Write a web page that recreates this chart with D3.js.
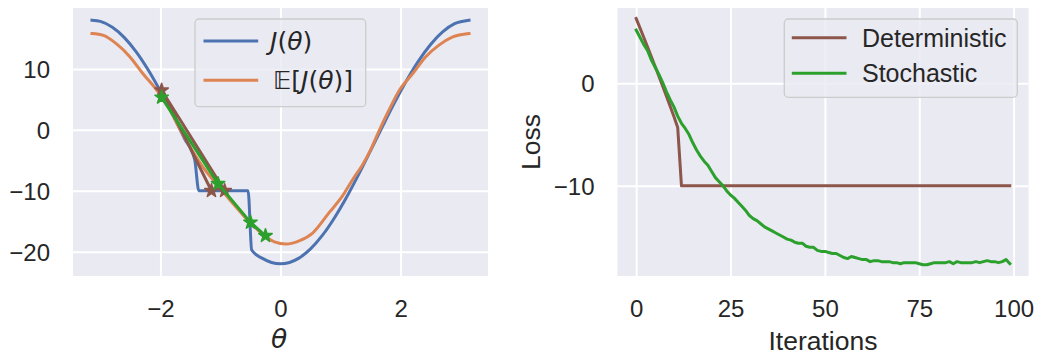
<!DOCTYPE html>
<html><head><meta charset="utf-8">
<script src="https://cdn.jsdelivr.net/npm/d3@7"></script>
<style>html,body{margin:0;padding:0;background:#fff;} svg{display:block;}</style>
</head><body><svg id="c" width="1048" height="358"></svg>
<script>
// ---------- LEFT PANEL DATA ----------
const thetaJ = [-3.14, -3.0, -2.8, -2.6, -2.4, -2.2, -2.0, -1.8, -1.6, -1.43, -1.36, -0.54, -0.48, -0.3, -0.15, 0.0,
                0.15, 0.3, 0.5, 0.7, 0.9, 1.1, 1.3, 1.5, 1.7, 1.9, 2.1, 2.3, 2.5, 2.7, 2.9, 3.14];
const valJ   = [18.0, 17.8, 16.84, 15.14, 12.75, 9.77, 6.32, 2.54, -1.42, -4.85, -10.0, -10.0, -19.74, -21.11, -21.78, -22.0,
                -21.78, -21.11, -19.55, -17.3, -14.43, -11.07, -7.35, -3.41, 0.58, 4.47, 8.1, 11.33, 14.02, 16.08, 17.42, 18.0];
const thetaE = [-3.14, -2.95, -2.73, -2.51, -2.29, -2.06, -1.84, -1.68, -1.5, -1.3, -1.04, -0.8, -0.5, -0.25, -0.1, 0.09,
                0.2, 0.32, 0.54, 0.81, 1.03, 1.2, 1.37, 1.5, 1.64, 1.81, 1.98, 2.2, 2.42, 2.64, 2.86, 3.14];
const valE   = [15.8, 15.5, 14.1, 12.0, 9.2, 6.5, 3.3, 0.2, -2.9, -6.0, -9.2, -12.0, -15.3, -17.5, -18.4, -18.75,
                -18.6, -18.2, -16.9, -13.6, -10.9, -8.2, -5.7, -3.3, -0.2, 3.3, 6.5, 9.2, 12.0, 13.9, 15.2, 15.8];
const detTheta = [-1.15, -1.98, -0.93];
const detVal   = [-10.0, 6.5, -10.0];
const stoTheta = [-1.98, -1.04, -0.50, -0.25];
const stoVal   = [5.33, -8.86, -15.2, -17.4];
const leftXTicks = [-2, 0, 2];
const leftYTicks = [-20, -10, 0, 10];

// ---------- RIGHT PANEL DATA ----------
const deterministicLoss = [6.32, 5.41, 4.49, 3.56, 2.62, 1.67, 0.71, -0.26, -1.24, -2.23, -3.23, -4.30,
  -10, -10, -10, -10, -10, -10, -10, -10, -10, -10, -10,
  -10, -10, -10, -10, -10, -10, -10, -10, -10, -10, -10,
  -10, -10, -10, -10, -10, -10, -10, -10, -10, -10, -10,
  -10, -10, -10, -10, -10, -10, -10, -10, -10, -10, -10,
  -10, -10, -10, -10, -10, -10, -10, -10, -10, -10, -10,
  -10, -10, -10, -10, -10, -10, -10, -10, -10, -10, -10,
  -10, -10, -10, -10, -10, -10, -10, -10, -10, -10, -10,
  -10, -10, -10, -10, -10, -10, -10, -10, -10, -10, -10];
const stochasticLoss = [5.2, 4.5, 3.8, 3.2, 2.3, 1.6, 0.9, 0.1, -0.8, -1.6,
  -2.3, -3.2, -3.9, -4.4, -5.0, -5.8, -6.5, -7.1, -7.6, -8.0,
  -8.6, -9.2, -9.6, -10.0, -10.5, -10.9, -11.2, -11.6, -12.0, -12.4,
  -12.9, -13.2, -13.4, -13.7, -14.0, -14.2, -14.4, -14.6, -14.8, -15.0,
  -15.2, -15.3, -15.5, -15.6, -15.6, -15.9, -16.0, -16.0, -16.3, -16.4,
  -16.4, -16.5, -16.6, -16.6, -16.8, -17.0, -17.1, -16.9, -17.0, -17.1,
  -17.2, -17.2, -17.4, -17.3, -17.3, -17.4, -17.4, -17.4, -17.5, -17.5,
  -17.6, -17.5, -17.5, -17.5, -17.5, -17.6, -17.7, -17.7, -17.6, -17.5,
  -17.5, -17.5, -17.5, -17.4, -17.6, -17.4, -17.5, -17.5, -17.5, -17.5,
  -17.4, -17.5, -17.4, -17.3, -17.4, -17.4, -17.5, -17.4, -17.2, -17.6];
const rightXTicks = [0, 25, 50, 75, 100];
const rightYTicks = [-10, 0];

// ---------- STYLE ----------
const C = {blue:'#4c72b0', orange:'#dd8452', brown:'#8c564b', green:'#2ca02c', bg:'#eaeaf2', text:'#262626'};
const SANS = "'Liberation Sans', Arial, Helvetica, sans-serif";
const MATH = "'DejaVu Sans', sans-serif";
const TICK_FS = 24, LEG_FS = 25, LAB_FS = 26.5;
const fmt = d => d < 0 ? '\u2212' + Math.abs(d) : String(d);

const svg = d3.select('#c');

function drawPanel(box, xs, ys, xticks, yticks) {
  const g = svg.append('g');
  g.append('rect').attr('x', box.x0).attr('y', box.y0)
    .attr('width', box.x1 - box.x0).attr('height', box.y1 - box.y0).attr('fill', C.bg);
  const ax = g.append('g').attr('transform', `translate(0,${box.y1})`)
    .call(d3.axisBottom(xs).tickValues(xticks).tickFormat(fmt)
      .tickSize(-(box.y1 - box.y0)).tickPadding(24));
  const ay = g.append('g').attr('transform', `translate(${box.x0},0)`)
    .call(d3.axisLeft(ys).tickValues(yticks).tickFormat(fmt)
      .tickSize(-(box.x1 - box.x0)).tickPadding(23));
  [ax, ay].forEach(a => {
    a.select('.domain').remove();
    a.selectAll('line').attr('stroke', '#fff').attr('stroke-width', 2);
    a.selectAll('text').attr('fill', C.text).style('font-family', SANS).style('font-size', TICK_FS + 'px');
  });
  ay.selectAll('text').attr('dy', '0.36em');
  return g;
}

function path(g, xsArr, ysArr, xs, ys, color, curve) {
  const pts = xsArr.map((x, i) => [x, ysArr[i]]);
  g.append('path').datum(pts)
    .attr('d', d3.line().x(d => xs(d[0])).y(d => ys(d[1])).curve(curve || d3.curveLinear))
    .attr('fill', 'none').attr('stroke', color).attr('stroke-width', 3)
    .attr('stroke-linejoin', 'round').attr('stroke-linecap', 'square');
  return pts;
}
function stars(g, pts, xs, ys, color) {
  g.selectAll(null).data(pts).enter().append('path')
    .attr('d', d3.symbol(d3.symbolStar, 56))
    .attr('transform', d => `translate(${xs(d[0])},${ys(d[1])})`)
    .attr('fill', color).attr('stroke', color).attr('stroke-width', 1.5).attr('stroke-linejoin', 'round');
}

// ---------- LEFT PANEL ----------
const LB = {x0: 73, x1: 488, y0: 8, y1: 276};
const lx = d3.scaleLinear().domain([-3.456, 3.456]).range([LB.x0, LB.x1]);
const ly = d3.scaleLinear().domain([-24, 20]).range([LB.y1, LB.y0]);
const gl = drawPanel(LB, lx, ly, leftXTicks, leftYTicks);
path(gl, thetaJ, valJ, lx, ly, C.blue, d3.curveMonotoneX);
path(gl, thetaE, valE, lx, ly, C.orange, d3.curveMonotoneX);
const dp = path(gl, detTheta, detVal, lx, ly, C.brown);
stars(gl, dp, lx, ly, C.brown);
const sp = path(gl, stoTheta, stoVal, lx, ly, C.green);
stars(gl, sp, lx, ly, C.green);

gl.append('text').attr('x', 279).attr('y', 348).attr('text-anchor', 'middle')
  .style('font-family', MATH).style('font-size', LAB_FS + 'px').style('font-style', 'italic')
  .attr('fill', C.text).text('\u03b8');

// left legend
const ll = gl.append('g');
ll.append('rect').attr('x', 195).attr('y', 19).attr('width', 170.7).attr('height', 87.7).attr('rx', 4)
  .attr('fill', C.bg).attr('fill-opacity', 0.8).attr('stroke', '#cccccc').attr('stroke-width', 1.3);
[[C.blue, 41], [C.orange, 80.3]].forEach(([c, y]) => {
  ll.append('line').attr('x1', 205).attr('x2', 256.7).attr('y1', y).attr('y2', y)
    .attr('stroke', c).attr('stroke-width', 3).attr('stroke-linecap', 'square');
});
const t1 = ll.append('text').attr('x', 270).attr('y', 49.5).attr('fill', C.text)
  .style('font-family', MATH).style('font-size', LEG_FS + 'px');
t1.append('tspan').style('font-style', 'italic').text('J');
t1.append('tspan').text('(');
t1.append('tspan').style('font-style', 'italic').text('\u03b8');
t1.append('tspan').text(')');
const t2 = ll.append('text').attr('x', 273).attr('y', 89.2).attr('fill', C.text)
  .style('font-family', MATH).style('font-size', LEG_FS + 'px');
t2.append('tspan').text('\u{1D53C}[');
t2.append('tspan').style('font-style', 'italic').text('J');
t2.append('tspan').text('(');
t2.append('tspan').style('font-style', 'italic').text('\u03b8');
t2.append('tspan').text(')]');

// ---------- RIGHT PANEL ----------
const RB = {x0: 617.5, x1: 1028.5, y0: 8, y1: 276};
const rx = d3.scaleLinear().domain([-4.95, 103.95]).range([RB.x0, RB.x1]);
const ry = d3.scaleLinear().domain([-18.8, 7.35]).range([RB.y1, RB.y0]);
const gr = drawPanel(RB, rx, ry, rightXTicks, rightYTicks);
const iters = deterministicLoss.map((_, i) => i);
path(gr, iters, deterministicLoss, rx, ry, C.brown);
path(gr, stochasticLoss.map((_, i) => i), stochasticLoss, rx, ry, C.green);

gr.append('text').attr('x', 823).attr('y', 350).attr('text-anchor', 'middle')
  .style('font-family', SANS).style('font-size', LAB_FS + 'px').attr('fill', C.text).text('Iterations');
gr.append('text').attr('transform', 'translate(539.5,142) rotate(-90)').attr('text-anchor', 'middle')
  .style('font-family', SANS).style('font-size', LAB_FS + 'px').attr('fill', C.text).text('Loss');

const rl = gr.append('g');
rl.append('rect').attr('x', 784.3).attr('y', 19).attr('width', 233).attr('height', 78.3).attr('rx', 4)
  .attr('fill', C.bg).attr('fill-opacity', 0.8).attr('stroke', '#cccccc').attr('stroke-width', 1.3);
[[C.brown, 37.7, 46.7, 'Deterministic'], [C.green, 73.3, 82, 'Stochastic']].forEach(([c, y, by, label]) => {
  rl.append('line').attr('x1', 793.3).attr('x2', 845).attr('y1', y).attr('y2', y)
    .attr('stroke', c).attr('stroke-width', 3).attr('stroke-linecap', 'square');
  rl.append('text').attr('x', 862).attr('y', by).attr('fill', C.text)
    .style('font-family', SANS).style('font-size', LEG_FS + 'px').text(label);
});
</script></body></html>
